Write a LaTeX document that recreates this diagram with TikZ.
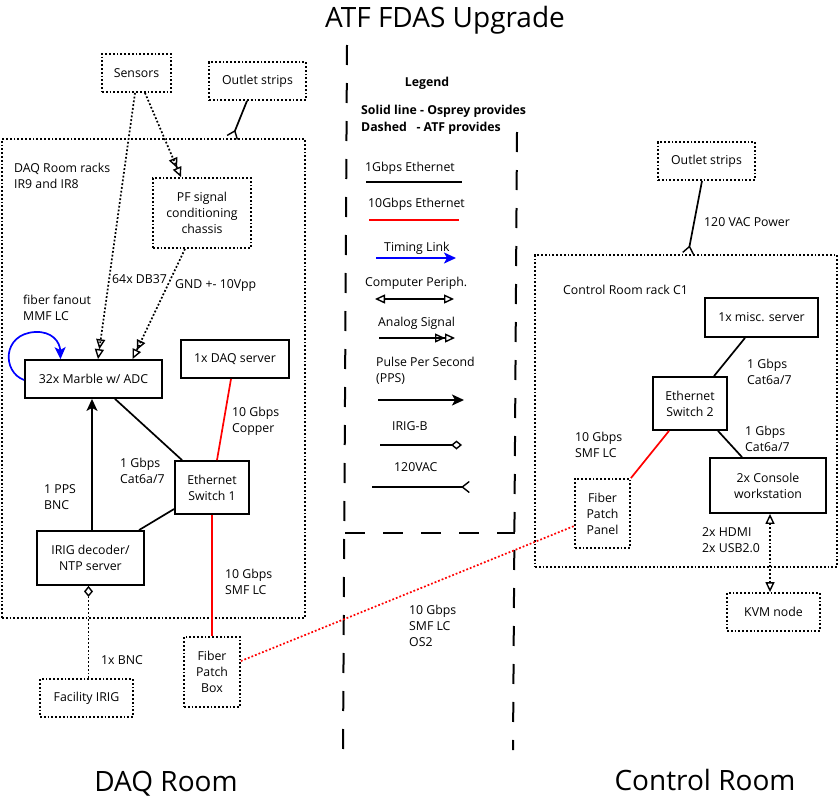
\documentclass[tikz,border=0pt]{standalone}
\usepackage{fontspec}
\setmainfont{Open Sans}
\usetikzlibrary{arrows.meta,calc}
\tikzset{
  otri/.tip={Triangle[open,length=10pt,width=9pt,line width=1.4pt]},
  dtri/.tip={Triangle[open,length=10pt,width=9pt,line width=1.4pt]Triangle[open,length=10pt,width=9pt,line width=1.4pt]},
  pps/.tip={Stealth[length=12pt,width=11pt,inset=3pt]},
  irigtip/.tip={Diamond[open,length=11pt,width=9pt,line width=1.4pt]},
  actip/.tip={Straight Barb[reversed,length=7pt,width=11pt,line width=1.4pt]},
  solidbox/.style={draw,line width=1.8pt,inner sep=0pt,align=center},
  dotbox/.style={draw,line width=1.8pt,dash pattern=on 1.8pt off 2pt,inner sep=0pt,align=center},
  conn/.style={line width=1.7pt},
  dotconn/.style={line width=1.7pt,dash pattern=on 1.8pt off 2pt},
  midline/.style={line width=2pt,dash pattern=on 20pt off 18pt},
  lbl/.style={anchor=base west,align=left,inner sep=0pt},
  bigtxt/.style={font=\fontsize{28}{32}\selectfont,inner sep=0pt},
}
\begin{document}
\begin{tikzpicture}[x=1pt,y=-1pt,font=\fontsize{12.3}{16}\selectfont]
\useasboundingbox (0,0) rectangle (840,803);

% title and room labels
\node[bigtxt] (title) at (445,20) {ATF FDAS Upgrade};
\node[bigtxt] (daqroom) at (166,784) {DAQ Room};
\node[bigtxt] (ctrlroom) at (705,780) {Control Room};

% middle dashed separators
\coordinate (mlt) at (347,45);
\coordinate (mlb) at (343,752);
\coordinate (mrt) at (517,132);
\coordinate (mrb) at (513,750);
\coordinate (mhl) at (345,533);
\coordinate (mhr) at (515,533);
\draw[midline] (mlt) -- (mlb);
\draw[midline] (mrt) -- (mrb);
\draw[midline] (mhl) -- (mhr);

% rack boxes
\node[dotbox,minimum width=303pt,minimum height=479pt] (daqrack) at (153.5,378.5) {};
\node[dotbox,minimum width=302pt,minimum height=312pt] (crrack) at (686,411) {};

% DAQ side nodes
\node[dotbox,minimum width=69pt,minimum height=38pt] (sensors) at (136.5,73) {Sensors};
\node[dotbox,minimum width=97pt,minimum height=38pt] (outletL) at (257.5,81) {Outlet strips};
\node[dotbox,minimum width=98pt,minimum height=70pt] (pf) at (202,213) {PF signal\\conditioning\\chassis};
\node[solidbox,minimum width=137pt,minimum height=38pt] (marble) at (93.5,379) {32x Marble w/ ADC};
\node[solidbox,minimum width=108pt,minimum height=38pt] (daqsrv) at (235,359) {1x DAQ server};
\node[solidbox,minimum width=74pt,minimum height=53pt] (sw1) at (212,487.5) {Ethernet\\Switch 1};
\node[solidbox,minimum width=107pt,minimum height=54pt] (irig) at (90.5,558) {IRIG decoder/\\NTP server};
\node[dotbox,minimum width=93pt,minimum height=38pt] (facirig) at (86.5,698) {Facility IRIG};
\node[dotbox,minimum width=56pt,minimum height=70pt] (fpb) at (212,672) {Fiber\\Patch\\Box};

% Control room nodes
\node[dotbox,minimum width=97pt,minimum height=38pt] (outletR) at (706.5,161) {Outlet strips};
\node[solidbox,minimum width=113pt,minimum height=39pt] (misc) at (761.5,317.5) {1x misc. server};
\node[solidbox,minimum width=74pt,minimum height=53pt] (sw2) at (690,403.5) {Ethernet\\Switch 2};
\node[solidbox,minimum width=116pt,minimum height=55pt] (console) at (768,485.5) {2x Console\\workstation};
\node[dotbox,minimum width=55pt,minimum height=69pt] (fpp) at (602.5,513.5) {Fiber\\Patch\\Panel};
\node[dotbox,minimum width=93pt,minimum height=38pt] (kvm) at (773.5,612) {KVM node};

% DAQ connectors
\draw[dotconn,-dtri] ([xshift=8.5pt]sensors.south) -- ([xshift=-21pt]pf.north);
\draw[dotconn,-dtri] ([xshift=-1.5pt]sensors.south) -- ([xshift=4.5pt]marble.north);
\draw[dotconn,-dtri] ([xshift=-17pt]pf.south) -- ([xshift=39pt]marble.north);
\draw[conn,-actip] ([xshift=-10.5pt]outletL.south) -- ([xshift=78.5pt]daqrack.north);
\draw[blue,conn,-{Stealth[length=12pt,width=11pt,inset=3pt]}] ([yshift=-1pt]marble.west) .. controls (2,372) and (2,334) .. (35,332) .. controls (52,331) and (60,342) .. ([xshift=-33pt]marble.north);
\draw[conn] ([xshift=21.5pt]marble.south) -- ([xshift=-30pt]sw1.north);
\draw[conn] ([xshift=48.5pt]irig.north) -- ([yshift=-21.5pt]sw1.west);
\draw[conn,-pps] ([xshift=1.5pt]irig.north) -- ([xshift=-1.5pt]marble.south);
\draw[conn,red] ([xshift=-4pt]daqsrv.south) -- ([xshift=5pt]sw1.north);
\draw[conn,red] (sw1.south) -- (fpb.north);
\draw[dotconn,-irigtip] ([xshift=2pt]facirig.north) -- ([xshift=-2pt]irig.south);
\draw[dotconn,red] ([yshift=11pt]fpb.east) -- ([yshift=-12.5pt]fpp.west);

% Control room connectors
\draw[conn,-actip] ([xshift=-4.5pt]outletR.south) -- ([xshift=2pt]crrack.north);
\draw[conn] ([xshift=-16.5pt]misc.south) -- ([xshift=24pt]sw2.north);
\draw[conn] ([xshift=28pt]sw2.south) -- ([xshift=-26pt]console.north);
\draw[conn,red] ([xshift=-21pt]sw2.south) -- (fpp.north east);
\draw[dotconn,otri-otri] ([xshift=2pt]console.south) -- ([xshift=-3.5pt]kvm.north);

% labels (base = baseline of last line)
\node[lbl] (l1) at (14,188) {DAQ Room racks\\IR9 and IR8};
\node[lbl] (l2) at (112,283) {64x DB37};
\node[lbl] (l3) at (175,288) {GND +- 10Vpp};
\node[lbl] (l4) at (23,320) {fiber fanout\\MMF LC};
\node[lbl] (l5) at (120,483) {1 Gbps\\Cat6a/7};
\node[lbl] (l6) at (44,509) {1 PPS\\BNC};
\node[lbl] (l7) at (232,432) {10 Gbps\\Copper};
\node[lbl] (l8) at (225,594) {10 Gbps\\SMF LC};
\node[lbl] (l9) at (101,664) {1x BNC};
\node[lbl] (l10) at (409,646) {10 Gbps\\SMF LC\\OS2};
\node[lbl] (l11) at (704,226) {120 VAC Power};
\node[lbl] (l12) at (563,294) {Control Room rack C1};
\node[lbl] (l13) at (747,384) {1 Gbps\\Cat6a/7};
\node[lbl] (l14) at (745,451) {1 Gbps\\Cat6a/7};
\node[lbl] (l15) at (575,457) {10 Gbps\\SMF LC};
\node[lbl] (l16) at (702,552) {2x HDMI\\2x USB2.0};

% legend
\node[anchor=base,inner sep=0pt,font=\fontsize{12.3}{16}\selectfont\bfseries] (lg) at (427,86) {Legend};
\node[lbl,font=\fontsize{12.3}{17}\selectfont\bfseries] (lgs) at (361,131) {Solid line - Osprey provides\\Dashed\ \ \ - ATF provides};
\node[lbl] (t1) at (365,171) {1Gbps Ethernet};
\node[lbl] (t2) at (368,207) {10Gbps Ethernet};
\node[lbl] (t3) at (384,251) {Timing Link};
\node[lbl] (t4) at (365,286) {Computer Periph.};
\node[lbl] (t5) at (378,326) {Analog Signal};
\node[lbl] (t6) at (376,382) {Pulse Per Second\\(PPS)};
\node[lbl] (t7) at (392,430) {IRIG-B};
\node[lbl] (t8) at (394,471) {120VAC};

\coordinate (a1) at (366,182); \coordinate (b1) at (462,182);
\coordinate (a2) at (369,220); \coordinate (b2) at (459,220);
\coordinate (a3) at (376,258); \coordinate (b3) at (456,258);
\coordinate (a4) at (375,299); \coordinate (b4) at (454,299);
\coordinate (a5) at (379,338); \coordinate (b5) at (455,338);
\coordinate (a6) at (378,400); \coordinate (b6) at (464,400);
\coordinate (a7) at (380,445); \coordinate (b7) at (462,445);
\coordinate (a8) at (372,487); \coordinate (b8) at (470,487);
\draw[conn] (a1) -- (b1);
\draw[conn,red] (a2) -- (b2);
\draw[conn,blue,-{Stealth[length=12pt,width=11pt,inset=3pt]}] (a3) -- (b3);
\draw[conn,otri-otri] (a4) -- (b4);
\draw[conn,-dtri] (a5) -- (b5);
\draw[conn,-pps] (a6) -- (b6);
\draw[conn,-irigtip] (a7) -- (b7);
\draw[conn,-actip] (a8) -- (b8);
\end{tikzpicture}
\end{document}
